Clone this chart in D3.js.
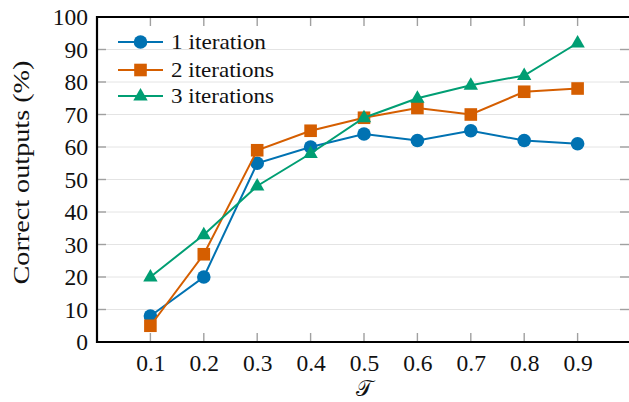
<!DOCTYPE html>
<html><head><meta charset="utf-8">
<script src="https://cdn.jsdelivr.net/npm/d3@7"></script>
<style>body{margin:0;background:#fff}svg{display:block}</style>
</head><body>
<script>
const taus = [0.1,0.2,0.3,0.4,0.5,0.6,0.7,0.8,0.9];
const iter1 = [8,20,55,60,64,62,65,62,61];
const iter2 = [5,27,59,65,69,72,70,77,78];
const iter3 = [20,33,48,58,69,75,79,82,92];
const seriesNames = ["1 iteration","2 iterations","3 iterations"];
const seriesColors = ["#0072B2","#D55E00","#009E73"];
const seriesMarkers = ["circle","square","triangle"];
const yTicks = [0,10,20,30,40,50,60,70,80,90,100];
const xTicks = taus;

const FONT='"Liberation Serif"';
const W=629,H=402;
const svg=d3.select("body").append("svg").attr("width",W).attr("height",H);
const x=d3.scaleLinear().domain([0,1]).range([97,631]);
const y=d3.scaleLinear().domain([0,100]).range([342,17]);

// grid
svg.append("g").selectAll("line").data(yTicks.slice(1,-1)).join("line")
 .attr("x1",97).attr("x2",631).attr("y1",d=>y(d)).attr("y2",d=>y(d))
 .attr("stroke","#e4e4e4").attr("stroke-width",1);

// tick marks (inward, gray)
const tk=svg.append("g").attr("stroke","#a0a0a0").attr("stroke-width",1.4);
xTicks.forEach(t=>{
  tk.append("line").attr("x1",x(t)).attr("x2",x(t)).attr("y1",342).attr("y2",333);
  tk.append("line").attr("x1",x(t)).attr("x2",x(t)).attr("y1",17).attr("y2",26);
});
yTicks.forEach(t=>{
  tk.append("line").attr("x1",97).attr("x2",106).attr("y1",y(t)).attr("y2",y(t));
  tk.append("line").attr("x1",620).attr("x2",631).attr("y1",y(t)).attr("y2",y(t));
});

// axes with d3 axis for labels
const xAxis=svg.append("g").attr("transform","translate(0,342)")
 .call(d3.axisBottom(x).tickValues(xTicks).tickSize(0).tickPadding(12).tickFormat(d3.format(".1f")));
xAxis.select(".domain").remove();
xAxis.selectAll("text").attr("font-size",23.5).style("font-family",FONT).attr("fill","#111");
const yAxis=svg.append("g").attr("transform","translate(97,0)")
 .call(d3.axisLeft(y).tickValues(yTicks).tickSize(0).tickPadding(9));
yAxis.select(".domain").remove();
yAxis.selectAll("text").attr("font-size",23.5).style("font-family",FONT).attr("fill","#111");

// frame
svg.append("path").attr("d",`M631,17H97V342H631`).attr("fill","none").attr("stroke","#000").attr("stroke-width",2.2);

// series
const data=[iter1,iter2,iter3];
const line=d3.line().x((d,i)=>x(taus[i])).y(d=>y(d));
function marker(g,type,cx,cy,color){
  if(type==="circle") g.append("circle").attr("cx",cx).attr("cy",cy).attr("r",6.8).attr("fill",color);
  else if(type==="square") g.append("rect").attr("x",cx-6.3).attr("y",cy-6.3).attr("width",12.6).attr("height",12.6).attr("fill",color);
  else g.append("path").attr("d",`M${cx},${cy-8}L${cx+7.2},${cy+4.5}L${cx-7.2},${cy+4.5}Z`).attr("fill",color);
}
data.forEach((vals,k)=>{
  const g=svg.append("g");
  g.append("path").attr("d",line(vals)).attr("fill","none").attr("stroke",seriesColors[k]).attr("stroke-width",2);
  vals.forEach((v,i)=>marker(g,seriesMarkers[k],x(taus[i]),y(v),seriesColors[k]));
});

// legend
const ly=[42,70,96];
const legendLen=[95,103,103];
seriesNames.forEach((n,k)=>{
  const g=svg.append("g");
  g.append("line").attr("x1",118).attr("x2",163).attr("y1",ly[k]).attr("y2",ly[k]).attr("stroke",seriesColors[k]).attr("stroke-width",2);
  marker(g,seriesMarkers[k],140.5,ly[k],seriesColors[k]);
  g.append("text").attr("x",171).attr("y",ly[k]).attr("dy","0.33em").attr("font-size",21.5)
   .attr("textLength",legendLen[k]).attr("lengthAdjust","spacingAndGlyphs")
   .style("font-family",FONT).attr("fill","#111").text(n);
});

// axis labels
svg.append("text").attr("transform","translate(29,172.5) rotate(-90)").attr("text-anchor","middle").attr("font-size",23)
 .attr("textLength",224).attr("lengthAdjust","spacingAndGlyphs")
 .style("font-family",FONT).attr("fill","#111").text("Correct outputs (%)");
svg.append("text").attr("x",364).attr("y",396).attr("text-anchor","middle").attr("font-size",22).style("font-family",FONT).attr("fill","#111").text("𝒯");
</script>
</body></html>
